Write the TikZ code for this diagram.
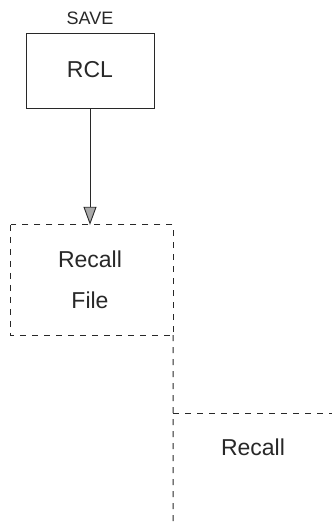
\documentclass[tikz,border=0pt]{standalone}
\usepackage{fontspec}
\setmainfont{Liberation Sans}
\usetikzlibrary{arrows.meta}
\definecolor{ink}{RGB}{40,40,40}
\begin{document}
\begin{tikzpicture}[x=1pt,y=-1pt,
  solidbox/.style={draw=ink,line width=1pt,minimum width=128pt,minimum height=75pt,inner sep=0pt},
  dashbox/.style={draw=ink,line width=1pt,dash pattern=on 6pt off 6pt},
  dashline/.style={draw=ink,line width=1pt,dash pattern=on 6pt off 6pt},
  lbl/.style={text=ink,font=\fontsize{23}{27}\selectfont,inner sep=0pt},
  small/.style={text=ink,font=\fontsize{18}{21}\selectfont,inner sep=0pt}]
\useasboundingbox (0,0) rectangle (332,522);
\node[small] (save) at (90,18) {SAVE};
\node[solidbox] (rcl) at (90,70.5) {};
\node[lbl] (rcltext) at (90,70) {RCL};
\node[minimum width=162pt,minimum height=110pt,inner sep=0pt] (rf) at (92,280) {};
\draw[dashbox] (rf.north west) rectangle (rf.south east);
\node[lbl] (rft1) at (90,259) {Recall};
\node[lbl] (rft2) at (90,300) {File};
\coordinate (vbot) at (173,522);
\coordinate (hj) at (173,413);
\coordinate (hend) at (332,413);
\draw[dashline] (rf.south east) -- (vbot);
\draw[dashline] (hj) -- (hend);
\node[lbl] (rec) at (253,447) {Recall};
\draw[draw=ink,line width=0.9pt,-{Triangle[length=18pt,width=13pt,fill=ink!40]}] (rcl.south) -- (rcl.south |- rf.north);
\end{tikzpicture}
\end{document}
